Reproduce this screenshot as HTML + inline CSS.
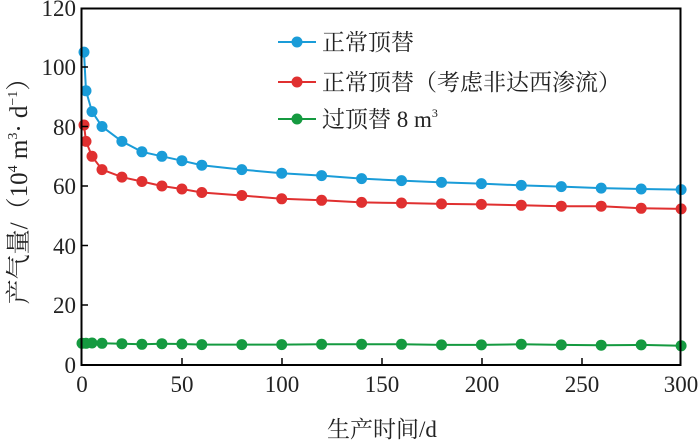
<!DOCTYPE html>
<html><head><meta charset="utf-8"><style>
html,body{margin:0;padding:0;background:#fff;}
svg{display:block;}
text{font-family:"Liberation Serif","Noto Serif CJK SC","Noto Sans CJK SC",serif;fill:#222;}
</style></head><body>
<svg width="700" height="445" viewBox="0 0 700 445" xmlns="http://www.w3.org/2000/svg">
<g fill="none" stroke-width="2">
<polyline stroke="#1a9cd8" points="84,52.1 86,90.8 92,111.6 102,126.5 121.9,141.4 141.9,151.8 161.9,156.3 181.9,160.7 201.8,165.2 241.8,169.6 281.7,173.2 321.6,175.6 361.6,178.6 401.5,180.6 441.5,182.4 481.4,183.6 521.3,185.4 561.3,186.6 601.2,188.1 641.2,189 681.1,189.6"/>
<polyline stroke="#e03030" points="84,125 86,141.4 92,156.3 102,169.6 121.9,177.1 141.9,181.5 161.9,186 181.9,189 201.8,192.5 241.8,195.5 281.7,198.8 321.6,200.3 361.6,202.4 401.5,203 441.5,203.9 481.4,204.4 521.3,205.3 561.3,206.2 601.2,206.2 641.2,208.3 681.1,208.9"/>
<polyline stroke="#159a40" points="82,343.3 86,343.3 92,343 102,343.3 121.9,343.7 141.9,344.3 161.9,343.7 181.9,344 201.8,344.6 241.8,344.6 281.7,344.6 321.6,344.3 361.6,344.3 401.5,344.3 441.5,344.9 481.4,344.9 521.3,344.3 561.3,344.9 601.2,345.2 641.2,344.9 681.1,345.8"/>
</g>
<g fill="#1a9cd8">
<circle cx="84" cy="52.1" r="5.5"/><circle cx="86" cy="90.8" r="5.5"/><circle cx="92" cy="111.6" r="5.5"/><circle cx="102" cy="126.5" r="5.5"/><circle cx="121.9" cy="141.4" r="5.5"/><circle cx="141.9" cy="151.8" r="5.5"/><circle cx="161.9" cy="156.3" r="5.5"/><circle cx="181.9" cy="160.7" r="5.5"/><circle cx="201.8" cy="165.2" r="5.5"/><circle cx="241.8" cy="169.6" r="5.5"/><circle cx="281.7" cy="173.2" r="5.5"/><circle cx="321.6" cy="175.6" r="5.5"/><circle cx="361.6" cy="178.6" r="5.5"/><circle cx="401.5" cy="180.6" r="5.5"/><circle cx="441.5" cy="182.4" r="5.5"/><circle cx="481.4" cy="183.6" r="5.5"/><circle cx="521.3" cy="185.4" r="5.5"/><circle cx="561.3" cy="186.6" r="5.5"/><circle cx="601.2" cy="188.1" r="5.5"/><circle cx="641.2" cy="189" r="5.5"/><circle cx="681.1" cy="189.6" r="5.5"/>
</g>
<g fill="#e03030">
<circle cx="84" cy="125" r="5.5"/><circle cx="86" cy="141.4" r="5.5"/><circle cx="92" cy="156.3" r="5.5"/><circle cx="102" cy="169.6" r="5.5"/><circle cx="121.9" cy="177.1" r="5.5"/><circle cx="141.9" cy="181.5" r="5.5"/><circle cx="161.9" cy="186" r="5.5"/><circle cx="181.9" cy="189" r="5.5"/><circle cx="201.8" cy="192.5" r="5.5"/><circle cx="241.8" cy="195.5" r="5.5"/><circle cx="281.7" cy="198.8" r="5.5"/><circle cx="321.6" cy="200.3" r="5.5"/><circle cx="361.6" cy="202.4" r="5.5"/><circle cx="401.5" cy="203" r="5.5"/><circle cx="441.5" cy="203.9" r="5.5"/><circle cx="481.4" cy="204.4" r="5.5"/><circle cx="521.3" cy="205.3" r="5.5"/><circle cx="561.3" cy="206.2" r="5.5"/><circle cx="601.2" cy="206.2" r="5.5"/><circle cx="641.2" cy="208.3" r="5.5"/><circle cx="681.1" cy="208.9" r="5.5"/>
</g>
<g fill="#159a40">
<circle cx="82" cy="343.3" r="5.5"/><circle cx="86" cy="343.3" r="5.5"/><circle cx="92" cy="343" r="5.5"/><circle cx="102" cy="343.3" r="5.5"/><circle cx="121.9" cy="343.7" r="5.5"/><circle cx="141.9" cy="344.3" r="5.5"/><circle cx="161.9" cy="343.7" r="5.5"/><circle cx="181.9" cy="344" r="5.5"/><circle cx="201.8" cy="344.6" r="5.5"/><circle cx="241.8" cy="344.6" r="5.5"/><circle cx="281.7" cy="344.6" r="5.5"/><circle cx="321.6" cy="344.3" r="5.5"/><circle cx="361.6" cy="344.3" r="5.5"/><circle cx="401.5" cy="344.3" r="5.5"/><circle cx="441.5" cy="344.9" r="5.5"/><circle cx="481.4" cy="344.9" r="5.5"/><circle cx="521.3" cy="344.3" r="5.5"/><circle cx="561.3" cy="344.9" r="5.5"/><circle cx="601.2" cy="345.2" r="5.5"/><circle cx="641.2" cy="344.9" r="5.5"/><circle cx="681.1" cy="345.8" r="5.5"/>
</g>
<rect x="81.5" y="8.5" width="599" height="356.5" fill="none" stroke="#000" stroke-width="2"/>
<g stroke="#000" stroke-width="1.5">
<line x1="81" y1="67" x2="88" y2="67"/><line x1="81" y1="126.5" x2="88" y2="126.5"/>
<line x1="81" y1="186" x2="88" y2="186"/><line x1="81" y1="245.5" x2="88" y2="245.5"/>
<line x1="81" y1="305" x2="88" y2="305"/>
<line x1="182" y1="365" x2="182" y2="358"/><line x1="282" y1="365" x2="282" y2="358"/>
<line x1="382" y1="365" x2="382" y2="358"/><line x1="482" y1="365" x2="482" y2="358"/>
<line x1="582" y1="365" x2="582" y2="358"/>
</g>
<g font-size="23" text-anchor="end">
<text x="76" y="16">120</text><text x="76" y="75">100</text><text x="76" y="135">80</text>
<text x="76" y="194">60</text><text x="76" y="254">40</text><text x="76" y="313">20</text>
<text x="76" y="373">0</text>
</g>
<g font-size="23" text-anchor="middle">
<text x="82" y="392">0</text><text x="182" y="392">50</text><text x="282" y="392">100</text>
<text x="382" y="392">150</text><text x="482" y="392">200</text><text x="582" y="392">250</text>
<text x="681" y="392">300</text>
</g>
<text x="382" y="437" font-size="23" text-anchor="middle">生产时间/d</text>
<text transform="translate(27,185) rotate(-90)" font-size="25" text-anchor="middle">产气量/（10<tspan font-size="14" dy="-10">4</tspan><tspan dy="10"> m</tspan><tspan font-size="14" dy="-10">3</tspan><tspan dy="10">· d</tspan><tspan font-size="14" dy="-10">−1</tspan><tspan dy="10">）</tspan></text>
<g font-size="23">
<line x1="278" y1="42" x2="316" y2="42" stroke="#1a9cd8" stroke-width="2"/><circle cx="297" cy="42" r="5.5" fill="#1a9cd8"/>
<text x="322" y="50">正常顶替</text>
<line x1="278" y1="82" x2="316" y2="82" stroke="#e03030" stroke-width="2"/><circle cx="297" cy="82" r="5.5" fill="#e03030"/>
<text x="322" y="90">正常顶替（考虑非达西渗流）</text>
<line x1="278" y1="119" x2="316" y2="119" stroke="#159a40" stroke-width="2"/><circle cx="297" cy="119" r="5.5" fill="#159a40"/>
<text x="322" y="127">过顶替 8 m<tspan font-size="12" dy="-10">3</tspan></text>
</g>
</svg>
</body></html>
